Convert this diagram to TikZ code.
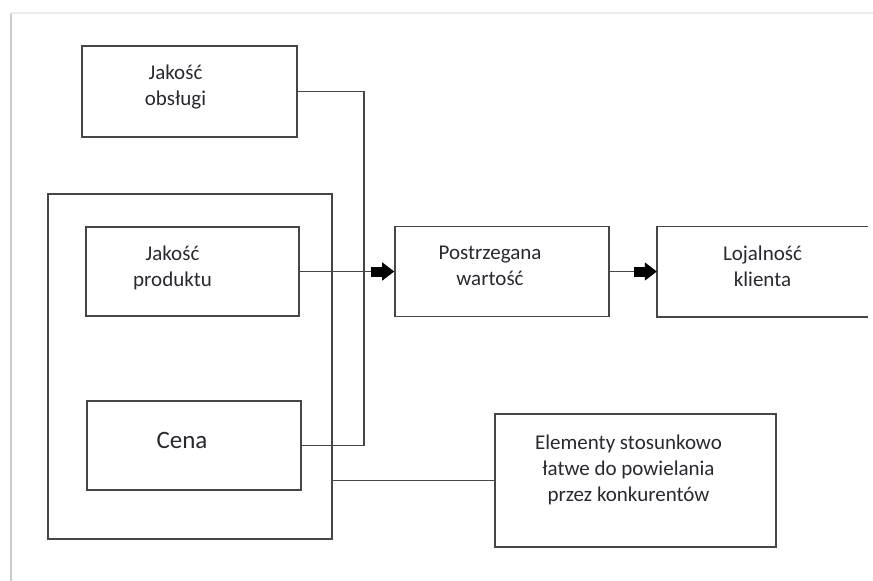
\documentclass[tikz,border=0pt]{standalone}
\usepackage{fontspec}
\setmainfont{Carlito}
\usetikzlibrary{positioning,arrows.meta}
\definecolor{linegray}{RGB}{70,70,70}
\definecolor{textgray}{RGB}{40,40,48}

\begin{document}
\begin{tikzpicture}[x=1pt, y=-1pt,
        box/.style={draw=linegray, line width=1.6pt, inner sep=0pt,
          minimum width=214pt, minimum height=90pt},
        txt/.style={text=textgray, align=center, inner sep=0pt,
          font=\fontsize{21}{26}\selectfont},
        conn/.style={draw=linegray, line width=1.6pt},
        arr/.style={conn, -{Rectangle[length=11pt,width=10pt,sep=0pt,black]Triangle[length=12pt,width=18pt,black]}}
        ]
        \useasboundingbox (0,0) rectangle (873,581);
        % page edge
        \draw[gray!40, line width=1.6pt] (11,581) -- (11,13);
        \draw[gray!15, line width=1.2pt] (11,13) -- (873,13);

        \node[box, minimum width=284pt, minimum height=345pt] (outer) at (190,366.5) {};
        \node[box, minimum width=215pt, minimum height=91pt] (obsl) at (189.5,91.5) {};
        \node[box, minimum width=213pt, minimum height=89pt] (prod) at (192.5,271.5) {};
        \node[box, minimum height=89pt] (cena) at (194,445.5) {};
        \node[box] (post) at (502,271.5) {};
        \node[minimum width=211pt, minimum height=90pt, inner sep=0pt, right = 47pt of post] (loj) {};
        \node[box, minimum width=281pt, minimum height=133pt] (elem) at (635.5,480.5) {};

        \node[txt, xshift=-14pt, yshift=4pt] (obsl-t) at (obsl) {Jakość\\obsługi};
        \node[txt, xshift=-20pt, yshift=4pt] (prod-t) at (prod) {Jakość\\produktu};
        \node[txt, xshift=-12pt, yshift=5pt, font=\fontsize{25}{30}\selectfont] (cena-t) at (cena) {Cena};
        \node[txt, xshift=-12pt, yshift=6pt] (post-t) at (post) {Postrzegana\\wartość};
        \node[txt, yshift=5pt] (loj-t) at (loj) {Lojalność\\klienta};
        \node[txt, xshift=-7pt, yshift=11pt] (elem-t) at (elem) {Elementy stosunkowo\\łatwe do powielania\\przez konkurentów};

        \draw[conn] (loj.north east) -- (loj.north west) -- (loj.south west) -- (loj.south east);

        \draw[conn] (obsl.east) -| ([xshift=62pt]cena.east) -- (cena.east);
        \draw[arr] (prod.east) -- (post.west);
        \draw[arr] (post.east) -- (loj.west);
        \draw[conn] (outer.east |- elem.west) -- (elem.west);
      \end{tikzpicture}
\end{document}
